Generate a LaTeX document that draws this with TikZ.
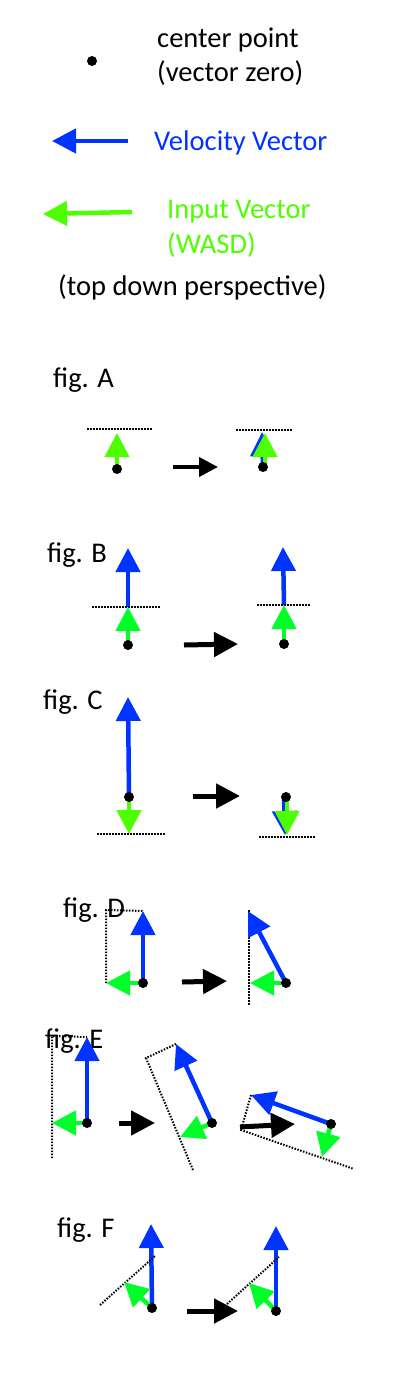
\documentclass[tikz,border=0pt]{standalone}
\usepackage{fontspec}
\setmainfont{Carlito}
\usetikzlibrary{arrows.meta}
\definecolor{vblue}{RGB}{0,51,255}
\definecolor{vlime}{RGB}{77,255,0}
\definecolor{vgreen}{RGB}{0,255,40}
\tikzset{
  lbl/.style={anchor=base west, inner sep=0pt, font=\fontsize{28.5}{34}\selectfont},
  velvec/.style={draw=vblue, line width=4.5pt, -{Triangle[length=24pt,width=24pt]}},
  inlime/.style={draw=vlime, line width=4.5pt, -{Triangle[length=24pt,width=24pt]}},
  ingreen/.style={draw=vgreen, line width=4.5pt, -{Triangle[length=24pt,width=24pt]}},
  stepar/.style={draw=black, line width=5pt, -{Triangle[length=24pt,width=24pt]}},
  smallstepar/.style={draw=black, line width=4pt, -{Triangle[length=19pt,width=19pt]}},
  dots/.style={draw=black, line width=2pt, dash pattern=on 1.5pt off 1.5pt},
  ctr/.style={fill=black}
}
\begin{document}
\begin{tikzpicture}[x=1pt,y=-1pt]
\useasboundingbox (0,0) rectangle (400,1400);
% ---------- legend ----------
\coordinate (L0) at (92,61);
\fill[ctr] (L0) circle (5pt);
\node[lbl] (t1) at (157,47) {center point};
\node[lbl] (t2) at (157,81) {(vector zero)};
\coordinate (Lb1) at (128,141); \coordinate (Lb2) at (52,141);
\draw[velvec] (Lb1) -- (Lb2);
\node[lbl, text=vblue] (t3) at (154,150) {Velocity Vector};
\coordinate (Lg1) at (132,212); \coordinate (Lg2) at (43,214);
\draw[inlime] (Lg1) -- (Lg2);
\node[lbl, text=vlime] (t4) at (167,218) {Input Vector};
\node[lbl, text=vlime] (t5) at (167,253) {(WASD)};
\node[lbl] (t6) at (58,295) {(top down perspective)};
% ---------- fig A ----------
\node[lbl] (fa) at (53,387) {fig. A};
\coordinate (A1) at (117,469); \coordinate (A1g) at (117,433);
\coordinate (A1l) at (87,429); \coordinate (A1r) at (152,429);
\draw[dots] (A1l) -- (A1r);
\draw[inlime] (A1) -- (A1g);
\fill[ctr] (A1) circle (5pt);
\coordinate (Aa1) at (173,467); \coordinate (Aa2) at (218,467);
\draw[smallstepar] (Aa1) -- (Aa2);
\coordinate (A2) at (263,467); \coordinate (A2b) at (262,432); \coordinate (A2g) at (265,433);
\coordinate (A2s) at (265,467);
\coordinate (A2l) at (236,430); \coordinate (A2r) at (293,430);
\draw[dots] (A2l) -- (A2r);
\draw[velvec] (A2) -- (A2b);
\draw[inlime] (A2s) -- (A2g);
\fill[ctr] (A2) circle (5pt);
% ---------- fig B ----------
\node[lbl] (fb) at (47,562) {fig. B};
\coordinate (B1) at (128,645); \coordinate (B1m) at (128,607); \coordinate (B1b) at (128,548);
\coordinate (B1l) at (92,607); \coordinate (B1r) at (160,607);
\draw[velvec] (B1m) -- (B1b);
\draw[dots] (B1l) -- (B1r);
\draw[ingreen] (B1) -- (B1m);
\fill[ctr] (B1) circle (5pt);
\coordinate (Ba1) at (184,645); \coordinate (Ba2) at (238,644);
\draw[stepar] (Ba1) -- (Ba2);
\coordinate (B2) at (284,644); \coordinate (B2m) at (284,605); \coordinate (B2b) at (283,547);
\coordinate (B2l) at (257,605); \coordinate (B2r) at (310,605);
\draw[velvec] (B2m) -- (B2b);
\draw[dots] (B2l) -- (B2r);
\draw[ingreen] (B2) -- (B2m);
\fill[ctr] (B2) circle (5pt);
% ---------- fig C ----------
\node[lbl] (fc) at (43,709) {fig. C};
\coordinate (C1) at (129,797); \coordinate (C1b) at (128,697); \coordinate (C1g) at (129,834);
\coordinate (C1l) at (97,834); \coordinate (C1r) at (165,834);
\draw[velvec] (C1) -- (C1b);
\draw[inlime] (C1) -- (C1g);
\draw[dots] (C1l) -- (C1r);
\fill[ctr] (C1) circle (5pt);
\coordinate (Ca1) at (193,796); \coordinate (Ca2) at (240,796);
\draw[stepar] (Ca1) -- (Ca2);
\coordinate (C2) at (286,797); \coordinate (C2s) at (284,797); \coordinate (C2b) at (285,835);
\coordinate (C2gs) at (287,797); \coordinate (C2g) at (287,835);
\coordinate (C2l) at (259,837); \coordinate (C2r) at (316,837);
\draw[dots] (C2l) -- (C2r);
\draw[velvec] (C2s) -- (C2b);
\draw[inlime] (C2gs) -- (C2g);
\fill[ctr] (C2) circle (5pt);
% ---------- fig D ----------
\node[lbl] (fd) at (63,917) {fig. D};
\coordinate (D1) at (143,983); \coordinate (D1b) at (143,911); \coordinate (D1g) at (106,983);
\coordinate (D1c) at (106,910);
\draw[dots] (D1g) -- (D1c) -- (D1b);
\draw[velvec] (D1) -- (D1b);
\draw[ingreen] (D1) -- (D1g);
\fill[ctr] (D1) circle (5pt);
\coordinate (Da1) at (182,982); \coordinate (Da2) at (227,981);
\draw[stepar] (Da1) -- (Da2);
\coordinate (D2) at (286,983); \coordinate (D2b) at (248,911); \coordinate (D2g) at (250,983);
\coordinate (D2t) at (249,910); \coordinate (D2u) at (249,1005);
\draw[dots] (D2t) -- (D2u);
\draw[velvec] (D2) -- (D2b);
\draw[ingreen] (D2) -- (D2g);
\fill[ctr] (D2) circle (5pt);
% ---------- fig E ----------
\coordinate (E1) at (87,1123); \coordinate (E1b) at (87,1037); \coordinate (E1g) at (52,1123);
\coordinate (E1c) at (52,1036); \coordinate (E1u) at (52,1158);
\draw[dots] (E1u) -- (E1c) -- (E1b);
\node[lbl] (fe) at (45,1048) {fig. E};
\draw[velvec] (E1) -- (E1b);
\draw[ingreen] (E1) -- (E1g);
\fill[ctr] (E1) circle (5pt);
\coordinate (Ea1) at (119,1123); \coordinate (Ea2) at (155,1123);
\draw[stepar] (Ea1) -- (Ea2);
\coordinate (E2) at (212,1123); \coordinate (E2b) at (176,1044); \coordinate (E2g) at (180,1137);
\coordinate (E2c) at (146,1058); \coordinate (E2u) at (193,1170);
\draw[dots] (E2b) -- (E2c) -- (E2u);
\draw[velvec] (E2) -- (E2b);
\draw[ingreen] (E2) -- (E2g);
\fill[ctr] (E2) circle (5pt);
\coordinate (E3) at (331,1124); \coordinate (E3b) at (251,1095); \coordinate (E3g) at (322,1157);
\coordinate (E3c) at (241,1130); \coordinate (E3u) at (354,1169);
\draw[dots] (E3b) -- (E3c) -- (E3u);
\coordinate (Eb1) at (240,1127); \coordinate (Eb2) at (295,1124);
\draw[stepar] (Eb1) -- (Eb2);
\draw[velvec] (E3) -- (E3b);
\draw[ingreen] (E3) -- (E3g);
\fill[ctr] (E3) circle (5pt);
% ---------- fig F ----------
\node[lbl] (ff) at (57,1237) {fig. F};
\coordinate (F1) at (152,1308); \coordinate (F1b) at (151,1224); \coordinate (F1g) at (124,1282);
\coordinate (F1l) at (100,1305); \coordinate (F1r) at (155,1256);
\draw[velvec] (F1) -- (F1b);
\draw[dots] (F1l) -- (F1r);
\draw[ingreen] (F1) -- (F1g);
\fill[ctr] (F1) circle (5pt);
\coordinate (Fa1) at (187,1311); \coordinate (Fa2) at (238,1311);
\draw[stepar] (Fa1) -- (Fa2);
\coordinate (F2) at (276,1311); \coordinate (F2b) at (276,1226); \coordinate (F2g) at (249,1283);
\coordinate (F2l) at (227,1304); \coordinate (F2r) at (279,1257);
\draw[velvec] (F2) -- (F2b);
\draw[dots] (F2l) -- (F2r);
\draw[ingreen] (F2) -- (F2g);
\fill[ctr] (F2) circle (5pt);
\end{tikzpicture}
\end{document}
